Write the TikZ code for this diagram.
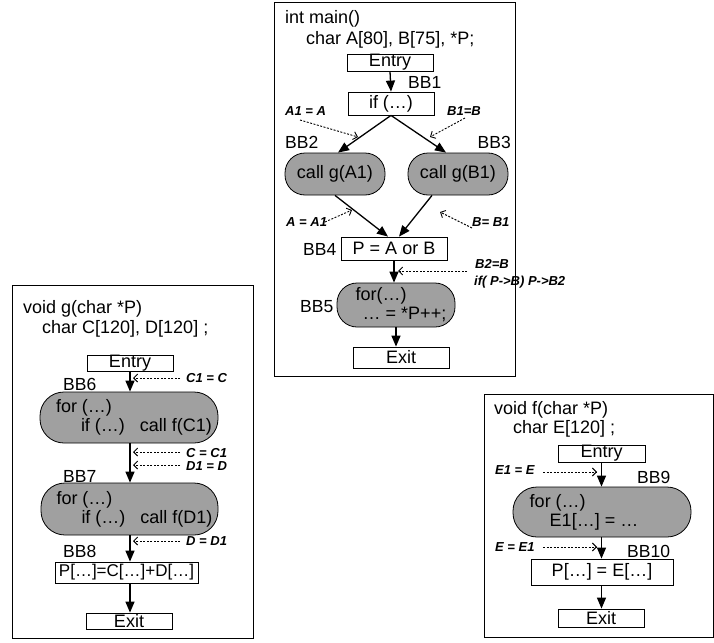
\documentclass[tikz,border=0pt]{standalone}
\usepackage{fontspec}
\setmainfont{Liberation Sans}
\usetikzlibrary{arrows.meta,calc}
\definecolor{stadgray}{RGB}{160,160,160}
\begin{document}
\begin{tikzpicture}[x=1pt,y=-1pt,
 frame/.style={draw, line width=0.8pt},
 blk/.style={draw, line width=0.8pt, inner sep=0pt, font=\fontsize{18}{20}\selectfont},
 stad/.style={draw, line width=0.8pt, fill=stadgray, rounded corners=20pt, inner sep=0pt, font=\fontsize{18}{19}\selectfont, align=left},
 txt/.style={anchor=base west, inner sep=0pt, font=\fontsize{18}{20}\selectfont},
 bbl/.style={anchor=base west, inner sep=0pt, font=\fontsize{17.5}{20}\selectfont},
 note/.style={anchor=base west, inner sep=0pt, font=\fontsize{13}{14}\selectfont\bfseries\itshape},
 arr/.style={line width=1.3pt, -{Triangle[length=11pt,width=9pt]}},
 darr/.style={line width=0.9pt, dash pattern=on 2pt off 1.5pt, -{Straight Barb[length=4pt,width=8pt]}},
]
\useasboundingbox (0,0) rectangle (714,642);
\fill[white] (0,0) rectangle (714,642);

% ---------------- main ----------------
\draw[frame] (274,2) rectangle (515,376);
\node[txt] (mt1) at (285,24) {int main()};
\node[txt] (mt2) at (306,45) {char A[80], B[75], *P;};
\node[blk, minimum width=86, minimum height=17] (en1) at (390,62.5) {Entry};
\node[bbl] (lbb1) at (408,88) {BB1};
\node[blk, minimum width=86, minimum height=23] (if1) at (391,103.5) {if (…)};
\node[note] (nA1) at (285,115) {A1 = A};
\node[note] (nB1) at (447,115) {B1=B};
\node[bbl] (lbb2) at (285,148) {BB2};
\node[bbl, anchor=base east] (lbb3) at (511,148) {BB3};
\node[stad, minimum width=100, minimum height=42] (bb2) at (335,174) {call g(A1)};
\node[stad, minimum width=100, minimum height=42] (bb3) at (458,174) {call g(B1)};
\draw[arr] (en1.south) -- (if1.north);
\draw[arr] (if1.south) -- ([xshift=3pt]bb2.north);
\draw[arr] (if1.south) -- ([xshift=-12pt]bb3.north);
\coordinate (dA1s) at (300,120); \coordinate (dA1e) at (358,137);
\coordinate (dB1s) at (465,118); \coordinate (dB1e) at (430,137);
\draw[darr] (dA1s) -- (dA1e);
\draw[darr] (dB1s) -- (dB1e);

\node[note] (nA) at (286,226) {A = A1};
\node[note] (nB) at (472,226) {B= B1};
\node[bbl] (lbb4) at (303,255) {BB4};
\node[blk, minimum width=106, minimum height=23] (bb4) at (394,248.5) {P = A or B};
\draw[arr] (bb2.south) -- ([xshift=-6pt]bb4.north);
\draw[arr] ([xshift=-26pt]bb3.south) -- ([xshift=5pt]bb4.north);
\coordinate (dAs) at (325,222); \coordinate (dAe) at (352,210);
\coordinate (dBs) at (472,228); \coordinate (dBe) at (440,212);
\draw[darr] (dAs) -- (dAe);
\draw[darr] (dBs) -- (dBe);

\node[note] (nB2a) at (475,268) {B2=B};
\node[note] (nB2b) at (474,285) {if( P->B) P->B2};
\node[bbl] (lbb5) at (300,312) {BB5};
\node[stad, minimum width=118, minimum height=44] (bb5) at (396,305) {\rule{10pt}{0pt}for(…)\\\rule{17pt}{0pt}… = *P++;};
\draw[arr] (bb4.south) -- (bb4.south |- bb5.north);
\coordinate (dB2s) at (467,271); \coordinate (dB2e) at (398,271);
\draw[darr] (dB2s) -- (dB2e);
\node[blk, minimum width=96, minimum height=21] (ex1) at (401,357.5) {Exit};
\draw[arr] (bb5.south) -- (bb5.south |- ex1.north);

% ---------------- g ----------------
\draw[frame] (12,285) rectangle (253,638);
\node[txt] (gt1) at (23,313) {void g(char *P)};
\node[txt] (gt2) at (42,333) {char C[120], D[120] ;};
\node[blk, minimum width=86, minimum height=16] (en2) at (130,363) {Entry};
\node[bbl] (lbb6) at (63,390) {BB6};
\node[note] (nC1) at (186,382) {C1 = C};
\node[stad, minimum width=178, minimum height=51, rounded corners=24pt] (bb6) at (129,417.5) {\rule{10pt}{0pt}for (…)\\\rule{35pt}{0pt}if (…)\rule{15pt}{0pt}call f(C1)};
\node[note] (nC) at (186,457) {C = C1};
\node[note] (nD1) at (186,470) {D1 = D};
\node[bbl] (lbb7) at (63,482) {BB7};
\node[stad, minimum width=177, minimum height=52, rounded corners=24pt] (bb7) at (129.5,509) {\rule{10pt}{0pt}for (…)\\\rule{35pt}{0pt}if (…)\rule{15pt}{0pt}call f(D1)};
\node[note] (nD) at (186,545) {D = D1};
\node[bbl] (lbb8) at (63,557) {BB8};
\node[blk, minimum width=143, minimum height=21, font=\fontsize{17}{19}\selectfont] (bb8) at (126.5,572.5) {P[…]=C[…]+D[…]};
\node[blk, minimum width=86, minimum height=16] (ex2) at (129,621) {Exit};
\draw[arr] (en2.south) -- (en2.south |- bb6.north);
\draw[arr] (en2.south |- bb6.south) -- (en2.south |- bb7.north);
\draw[arr] (en2.south |- bb7.south) -- (en2.south |- bb8.north);
\draw[arr] (en2.south |- bb8.south) -- (en2.south |- ex2.north);
\coordinate (dC1s) at (180,378); \coordinate (dC1e) at (133,378);
\coordinate (dCs) at (180,452); \coordinate (dCe) at (133,452);
\coordinate (dD1s) at (180,465); \coordinate (dD1e) at (133,465);
\coordinate (dDs) at (180,541); \coordinate (dDe) at (133,541);
\draw[darr] (dC1s) -- (dC1e);
\draw[darr] (dCs) -- (dCe);
\draw[darr] (dD1s) -- (dD1e);
\draw[darr] (dDs) -- (dDe);

% ---------------- f ----------------
\draw[frame] (484,394) rectangle (713,637);
\node[txt] (ft1) at (494,414) {void f(char *P)};
\node[txt] (ft2) at (513,433) {char E[120] ;};
\node[blk, minimum width=87, minimum height=17] (en3) at (601.5,453.5) {Entry};
\node[note] (nE1) at (495,474) {E1 = E};
\node[bbl] (lbb9) at (637,483) {BB9};
\node[stad, minimum width=178, minimum height=50, rounded corners=24pt] (bb9) at (602,512) {for (…)\\\rule{20pt}{0pt}E1[…] = …\rule{36pt}{0pt}};
\node[note] (nE) at (495,551) {E = E1};
\node[bbl] (lbb10) at (627,557) {BB10};
\node[blk, minimum width=142, minimum height=26] (bb10) at (602,572) {P[…] = E[…]};
\node[blk, minimum width=86, minimum height=18] (ex3) at (601,618) {Exit};
\draw[arr] (en3.south) -- (en3.south |- bb9.north);
\draw[arr] (en3.south |- bb9.south) -- (en3.south |- bb10.north);
\draw[arr] (en3.south |- bb10.south) -- (en3.south |- ex3.north);
\coordinate (dE1s) at (543,472); \coordinate (dE1e) at (597,472);
\coordinate (dEs) at (543,547); \coordinate (dEe) at (597,547);
\draw[darr] (dE1s) -- (dE1e);
\draw[darr] (dEs) -- (dEe);
\end{tikzpicture}
\end{document}
